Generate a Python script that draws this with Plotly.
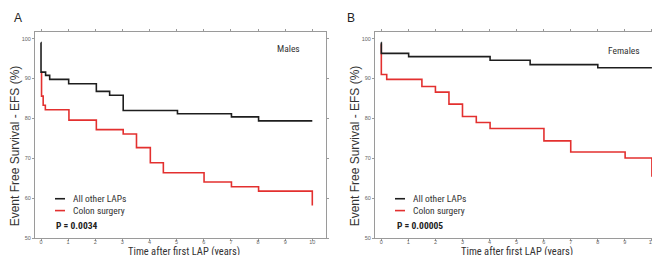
import plotly.graph_objects as go

# ---- data ----
years_ticks = list(range(0, 11))
efs_ticks = [50, 60, 70, 80, 90, 100]

# Panel A (Males)
a_other_t = [0, 0.001, 0.17, 0.32, 1.02, 2.04, 2.53, 3.03, 5.03, 7.02, 8.02, 10]
a_other_s = [99.0, 91.6, 90.8, 89.8, 88.7, 86.8, 85.8, 82.0, 81.2, 80.4, 79.4, 79.4]
a_colon_t = [0, 0.02, 0.08, 0.16, 1.03, 2.04, 3.03, 3.52, 4.03, 4.51, 6.01, 7.02, 8.02, 10, 10]
a_colon_s = [91.6, 85.6, 83.3, 82.2, 79.6, 77.2, 76.1, 72.7, 68.9, 66.4, 64.1, 62.9, 61.8, 61.8, 58.2]

# Panel B (Females)
b_other_t = [0, 0.001, 1.01, 4.02, 5.5, 8.0, 10]
b_other_s = [99.0, 96.3, 95.5, 94.6, 93.5, 92.7, 92.7]
b_colon_t = [0, 0.001, 0.2, 1.5, 2.0, 2.5, 3.0, 3.51, 4.02, 6.01, 7.0, 9.01, 10, 10]
b_colon_s = [98.6, 91.0, 89.8, 88.0, 86.6, 83.6, 80.5, 79.0, 77.5, 74.4, 71.6, 70.1, 70.1, 65.4]

legend_labels = ["All other LAPs", "Colon surgery"]
p_values = ["P = 0.0034", "P = 0.00005"]
panel_titles = ["Males", "Females"]

BLACK = "#1e1e1e"
RED = "#e3302f"
W, H = 660, 255

fig = go.Figure()

def add_panel(xa, ya, t_other, s_other, t_colon, s_colon):
    fig.add_trace(go.Scatter(x=t_colon, y=s_colon, mode="lines", line=dict(color=RED, width=1.6, shape="hv"),
                             xaxis=xa, yaxis=ya, showlegend=False, hoverinfo="skip"))
    fig.add_trace(go.Scatter(x=t_other, y=s_other, mode="lines", line=dict(color=BLACK, width=1.6, shape="hv"),
                             xaxis=xa, yaxis=ya, showlegend=False, hoverinfo="skip"))

add_panel("x", "y", a_other_t, a_other_s, a_colon_t, a_colon_s)
add_panel("x2", "y2", b_other_t, b_other_s, b_colon_t, b_colon_s)

def px(x):
    return x / W

def py(y):
    return 1 - y / H

COND = "Roboto Condensed, Liberation Sans, Arial, sans-serif"
FONT = "Liberation Sans, Arial, sans-serif"

axis_common = dict(showgrid=False, zeroline=False, showline=True, linecolor="#9a9a9a", linewidth=1,
                   mirror="ticks", ticks="outside", ticklen=2, tickcolor="#9a9a9a",
                   tickfont=dict(size=5.5, color="#666666", family=FONT))

yd = [py(233), py(24)]
fig.update_layout(
    width=W, height=H, margin=dict(l=0, r=0, t=0, b=0),
    paper_bgcolor="white", plot_bgcolor="white",
    xaxis=dict(domain=[px(27), px(318)], range=[-0.221, 10.505], tickvals=years_ticks, anchor="y", **axis_common),
    yaxis=dict(domain=yd, range=[50, 101.73], tickvals=efs_ticks, anchor="x", **axis_common),
    xaxis2=dict(domain=[px(367), px(655)], range=[-0.233, 10.41], tickvals=years_ticks, anchor="y2", **axis_common),
    yaxis2=dict(domain=yd, range=[50, 101.73], tickvals=efs_ticks, anchor="x2", **axis_common),
)

ann = []
# panel letters
ann.append(dict(x=px(10), y=py(10), text="A", font=dict(size=12, color="#222", family=FONT)))
ann.append(dict(x=px(343), y=py(10), text="B", font=dict(size=12, color="#222", family=FONT)))
# panel titles
ann.append(dict(x=px(280), y=py(41), text=panel_titles[0], font=dict(size=9.5, color="#333", family=COND)))
ann.append(dict(x=px(616), y=py(43), text=panel_titles[1], font=dict(size=9.5, color="#333", family=COND)))
# axis titles
for cx, xl in [(176, 7), (509, 347)]:
    ann.append(dict(x=px(cx), y=0, yanchor="bottom", text="Time after first LAP (years)",
                    font=dict(size=10.5, color="#333", family=COND)))
    ann.append(dict(x=px(xl), y=py(140), text="Event Free Survival - EFS (%)", textangle=-90,
                    font=dict(size=12, color="#333", family=FONT)))
# legends
shapes = []
for lx0, tx, pxv, pv in [(47, 63, 46, p_values[0]), (387, 403, 387, p_values[1])]:
    for i, (lab, col) in enumerate(zip(legend_labels, [BLACK, RED])):
        yy = 193 + 12 * i
        shapes.append(dict(type="line", xref="paper", yref="paper", x0=px(lx0), x1=px(lx0 + 10),
                           y0=py(yy), y1=py(yy), line=dict(color=col, width=1.6)))
        ann.append(dict(x=px(tx), y=py(yy), text=lab, xanchor="left",
                        font=dict(size=9.5, color="#333", family=COND)))
    ann.append(dict(x=px(pxv), y=py(220), text="<b>" + pv + "</b>", xanchor="left",
                    font=dict(size=9.5, color="#222", family=COND)))

for a in ann:
    a.setdefault("xanchor", "center")
    a.setdefault("yanchor", "middle")
    a.update(xref="paper", yref="paper", showarrow=False)

fig.update_layout(annotations=ann, shapes=shapes)
fig.update_xaxes(ticklabelstandoff=-4)
fig.write_html("out.html")
